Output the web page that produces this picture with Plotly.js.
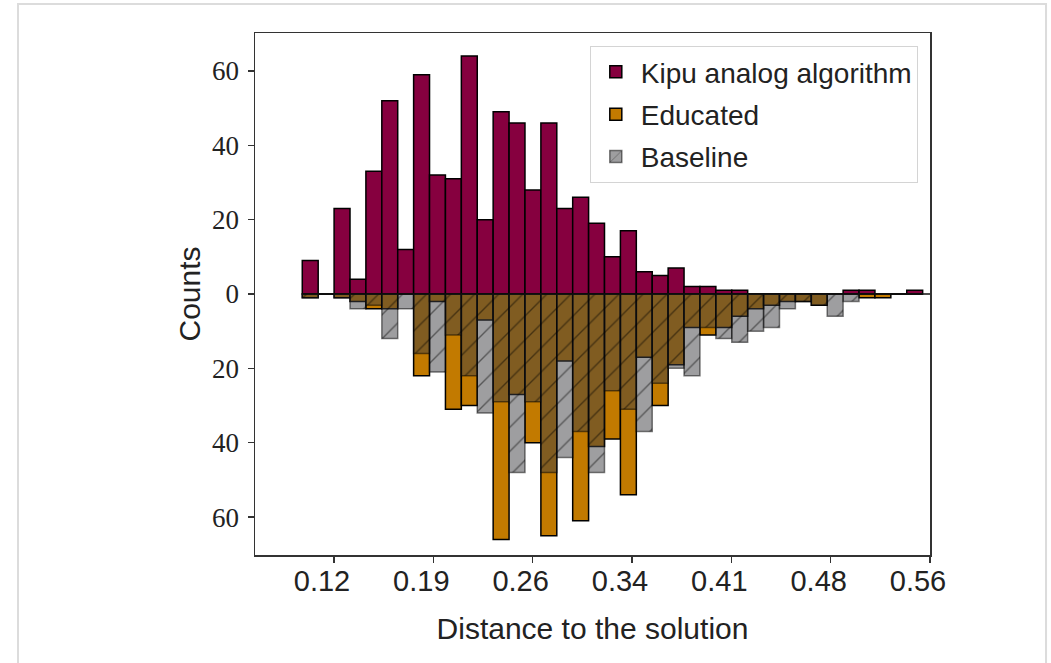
<!DOCTYPE html>
<html>
<head>
<meta charset="utf-8">
<script src="https://cdn.plot.ly/plotly-3.0.1.min.js"></script>
<style>
html, body { margin: 0; padding: 0; background: #ffffff; }
#chart { width: 1051px; height: 663px; }
</style>
</head>
<body>
<div id="chart"></div>
<script>
// Histogram bins (centres of the shared bins, distance to the solution)
const binCenters = [
  0.10047, 0.11221, 0.12396, 0.13570, 0.14744, 0.15919, 0.17093, 0.18267,
  0.19441, 0.20616, 0.21790, 0.22964, 0.24139, 0.25313, 0.26487, 0.27662,
  0.28836, 0.30010, 0.31184, 0.32359, 0.33533, 0.34707, 0.35882, 0.37056,
  0.38230, 0.39405, 0.40579, 0.41753, 0.42927, 0.44102, 0.45276, 0.46450,
  0.47625, 0.48799, 0.49973, 0.51148, 0.52322, 0.53496, 0.54670
];
const binWidth = 0.011743;

// Counts per bin
const kipuCounts = [
  9, 0, 23, 4, 33, 52, 12, 59, 32, 31, 64, 20, 49, 46, 28, 46,
  23, 26, 19, 10, 17, 6, 5, 7, 2, 2, 1, 1, 0, 0, 0, 0,
  0, 0, 1, 1, 0, 0, 1
];
const educatedCounts = [
  1, 0, 1, 2, 4, 4, 0, 22, 2, 31, 30, 7, 66, 27, 40, 65,
  18, 61, 41, 39, 54, 17, 30, 19, 9, 11, 9, 6, 4, 3, 2, 2,
  3, 0, 0, 1, 1, 0, 0
];
const baselineCounts = [
  1, 0, 1, 4, 3, 12, 4, 16, 21, 11, 22, 32, 29, 48, 29, 48,
  44, 37, 48, 26, 31, 37, 24, 20, 22, 9, 12, 13, 10, 9, 4, 2,
  3, 6, 2, 0, 0, 0, 0
];

const seriesNames = ['Kipu analog algorithm', 'Educated', 'Baseline'];

// Axis ticks
const xTickValues = [0.118, 0.19133, 0.26467, 0.338, 0.41133, 0.48467, 0.558];
const xTickLabels = ['0.12', '0.19', '0.26', '0.34', '0.41', '0.48', '0.56'];
const yTickValues = [-60, -40, -20, 0, 20, 40, 60];
const yTickLabels = ['60', '40', '20', '0', '20', '40', '60'];
const xRange = [0.0597, 0.558];

const kipuTrace = {
  type: 'bar',
  name: seriesNames[0],
  legendgroup: 'kipu',
  x: binCenters,
  y: kipuCounts,
  width: binWidth,
  marker: { color: '#86003f', line: { color: '#000000', width: 1.5 } },
  hoverinfo: 'skip'
};

const educatedTrace = {
  type: 'bar',
  name: seriesNames[1],
  legendgroup: 'educated',
  x: binCenters,
  y: educatedCounts.map(v => -v),
  width: binWidth,
  marker: { color: '#c27a00', line: { color: '#000000', width: 1.5 } },
  hoverinfo: 'skip'
};

const baselineTrace = {
  type: 'bar',
  name: seriesNames[2],
  legendgroup: 'baseline',
  x: binCenters,
  y: baselineCounts.map(v => -v),
  width: binWidth,
  marker: {
    color: 'rgba(62,62,66,0.5)',
    line: { color: 'rgba(0,0,0,0.5)', width: 1.5 },
    pattern: {
      shape: '/',
      fillmode: 'overlay',
      bgcolor: 'rgba(62,62,66,0.5)',
      fgcolor: '#000000',
      fgopacity: 0.45,
      size: 17,
      solidity: 0.08
    }
  },
  hoverinfo: 'skip'
};

const sansFont = 'Liberation Sans, Arial, sans-serif';

const layout = {
  width: 1051,
  height: 663,
  margin: { l: 255, r: 121, t: 33, b: 108, pad: 0 },
  paper_bgcolor: '#ffffff',
  plot_bgcolor: '#ffffff',
  barmode: 'overlay',
  showlegend: true,
  legend: {
    x: 0.496, y: 0.975, xanchor: 'left', yanchor: 'top',
    bgcolor: 'rgba(255,255,255,0.85)',
    bordercolor: '#d4d4d4', borderwidth: 1,
    font: { family: sansFont, size: 28, color: '#222222' },
    itemwidth: 40,
    tracegroupgap: 3
  },
  xaxis: {
    range: xRange,
    tickmode: 'array',
    tickvals: xTickValues,
    ticktext: xTickLabels,
    ticks: 'outside', ticklen: 6, tickwidth: 1.2, tickcolor: '#333333',
    tickfont: { family: sansFont, size: 29, color: '#222222' },
    ticklabelshift: -12,
    ticklabelstandoff: -6,
    showgrid: false, zeroline: false,
    showline: true, mirror: true, linecolor: '#333333', linewidth: 1.5,
    title: { text: 'Distance to the solution', standoff: 21,
             font: { family: sansFont, size: 30, color: '#222222' } }
  },
  yaxis: {
    range: [-70.2, 70.2],
    tickmode: 'array',
    tickvals: yTickValues,
    ticktext: yTickLabels,
    ticks: 'outside', ticklen: 6, tickwidth: 1.2, tickcolor: '#333333',
    tickfont: { family: 'Liberation Serif, Times New Roman, serif', size: 27, color: '#222222' },
    ticklabelstandoff: 3,
    showgrid: false,
    zeroline: false,
    showline: true, mirror: true, linecolor: '#333333', linewidth: 1.5,
    title: { text: 'Counts', standoff: 2,
             font: { family: sansFont, size: 30, color: '#222222' } }
  },
  shapes: [
    // baseline of the mirrored histogram, from the first bin edge to the right edge
    { type: 'line', xref: 'x', yref: 'y', layer: 'above',
      x0: binCenters[0] - binWidth / 2, x1: xRange[1], y0: 0, y1: 0,
      line: { color: '#111111', width: 1.5 } },
    // light frame around the figure
    { type: 'rect', xref: 'paper', yref: 'paper', layer: 'below',
      x0: -0.3511, x1: 1.1719, y0: -0.26, y1: 1.0556,
      line: { color: '#dcdcdc', width: 2 }, fillcolor: 'rgba(0,0,0,0)' }
  ]
};

Plotly.newPlot('chart', [kipuTrace, educatedTrace, baselineTrace], layout, { displayModeBar: false, staticPlot: true });
</script>
</body>
</html>
